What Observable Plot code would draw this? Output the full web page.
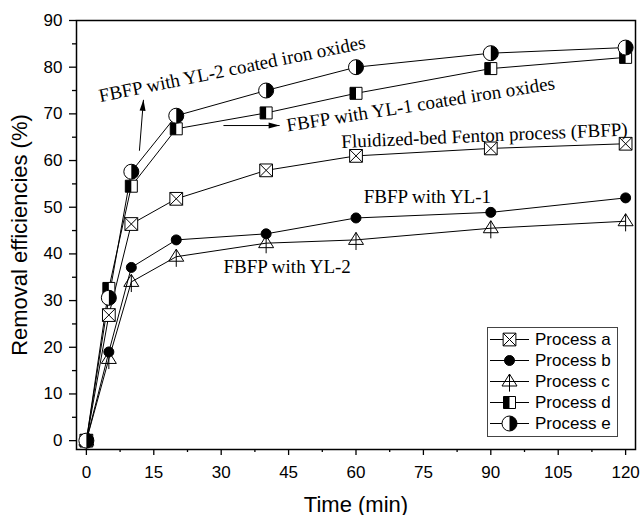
<!DOCTYPE html>
<html><head><meta charset="utf-8">
<script src="https://cdn.jsdelivr.net/npm/d3@7"></script>
<script src="https://cdn.jsdelivr.net/npm/@observablehq/plot@0.6"></script>
<style>
body{margin:0;background:#fff;}
#chart{position:relative;width:643px;height:515px;}
</style></head><body><div id="chart"></div>
<script>
// ---- data ----
const times = [0, 5, 10, 20, 40, 60, 90, 120];
const processA = [0, 26.9, 46.4, 51.8, 57.9, 61.0, 62.6, 63.6];
const processB = [0, 19.0, 37.1, 43.0, 44.3, 47.7, 48.9, 52.0];
const processC = [0, 17.5, 34.0, 39.4, 42.3, 43.0, 45.5, 47.0];
const processD = [0, 32.6, 54.5, 66.8, 70.2, 74.4, 79.7, 82.1];
const processE = [0, 30.6, 57.6, 69.6, 75.0, 80.0, 83.0, 84.2];
const seriesNames = ["Process a", "Process b", "Process c", "Process d", "Process e"];
const xTicks = [0, 15, 30, 45, 60, 75, 90, 105, 120];
const xMinor = [7.5, 22.5, 37.5, 52.5, 67.5, 82.5, 97.5, 112.5];
const yTicks = [0, 10, 20, 30, 40, 50, 60, 70, 80, 90];
const yMinor = [5, 15, 25, 35, 45, 55, 65, 75, 85];
const xLabel = "Time (min)";
const yLabel = "Removal efficiencies (%)";
const annoText = ["FBFP with YL-2 coated iron oxides", "FBFP with YL-1 coated iron oxides",
  "Fluidized-bed Fenton process (FBFP)", "FBFP with YL-1", "FBFP with YL-2"];
const annoX = [3.1, 44.75, 56.8, 61.7, 30.5];
const annoY = [72.5, 66.2, 62.7, 51.0, 35.9];
const annoAngle = [-11.5, -9, -2.5, 0, 0];
const arrowX1 = [11.8, 30.5], arrowY1 = [62.1, 67.5];
const arrowX2 = [12.7, 43.0], arrowY2 = [73.0, 67.5];

// ---- symbols ----
const rOf = size => Math.sqrt(size / Math.PI);
const crossSquare = {draw(c, size){ const s = rOf(size)*0.85;
  c.moveTo(-s,-s); c.lineTo(s,-s); c.lineTo(s,s); c.lineTo(-s,s); c.closePath();
  c.moveTo(-s,-s); c.lineTo(s,s); c.moveTo(s,-s); c.lineTo(-s,s);}};
const squareSym = {draw(c, size){ const s = rOf(size)*0.8;
  c.moveTo(-s,-s); c.lineTo(s,-s); c.lineTo(s,s); c.lineTo(-s,s); c.closePath();}};
const leftHalfSquare = {draw(c, size){ const s = rOf(size)*0.8;
  c.moveTo(-s,-s); c.lineTo(0,-s); c.lineTo(0,s); c.lineTo(-s,s); c.closePath();}};
const rightHalfCircle = {draw(c, size){ const r = rOf(size);
  c.moveTo(0,-r); c.arc(0,0,r,-Math.PI/2,Math.PI/2); c.closePath();}};
const triPlus = {draw(c, size){ const r = rOf(size);
  c.moveTo(0,-r); c.lineTo(r,0.6*r); c.lineTo(-r,0.6*r); c.closePath();
  c.moveTo(0,-r); c.lineTo(0,1.35*r);}};
const arrowSym = deg => ({draw(c){ const a = deg*Math.PI/180;
  const p = (x,y)=>[x*Math.cos(a)-y*Math.sin(a), x*Math.sin(a)+y*Math.cos(a)];
  const pts = [p(0,0), p(3,11), p(-3,11)];
  c.moveTo(...pts[0]); c.lineTo(...pts[1]); c.lineTo(...pts[2]); c.closePath();}});

const allSeries = [processA, processB, processC, processD, processE];
const rows = [];
allSeries.forEach((vals, i) => times.forEach((t, j) => rows.push({series: seriesNames[i], t, v: vals[j]})));
const bySeries = name => rows.filter(d => d.series === name);
const annos = annoText.map((text, i) => ({text, x: annoX[i], y: annoY[i], angle: annoAngle[i]}));
const arrows = arrowX1.map((x1, i) => ({x1, y1: arrowY1[i], x2: arrowX2[i], y2: arrowY2[i]}));

const markerSpecs = [
  [{symbol: crossSquare, r: 7.5, fill: "white", stroke: "black"}],
  [{symbol: "circle", r: 5, fill: "black", stroke: "black"}],
  [{symbol: triPlus, r: 7.5, fill: "none", stroke: "black"}],
  [{symbol: squareSym, r: 7.5, fill: "white", stroke: "black"}, {symbol: leftHalfSquare, r: 7.5, fill: "black", stroke: "none"}],
  [{symbol: "circle", r: 7.5, fill: "white", stroke: "black"}, {symbol: rightHalfCircle, r: 7.5, fill: "black", stroke: "none"}]
];

const dotMarks = [];
seriesNames.forEach((name, i) => markerSpecs[i].forEach(spec =>
  dotMarks.push(Plot.dot(bySeries(name), {x: "t", y: "v", strokeWidth: 1, ...spec}))));

const serif = "'Liberation Serif', 'Times New Roman', serif";
const chart = Plot.plot({
  width: 643, height: 515,
  marginLeft: 76, marginRight: 8, marginTop: 20, marginBottom: 66,
  x: {domain: [-2.2, 122.2]},
  y: {domain: [-1.9, 90]},
  style: {fontFamily: "'Liberation Sans', Arial, sans-serif", color: "black", background: "white"},
  marks: [
    Plot.axisX(xTicks, {tickSize: 6, tickPadding: 10, fontSize: 17, label: null, strokeWidth: 1.3}),
    Plot.axisX(xMinor, {tickSize: 3, tickFormat: () => "", label: null, strokeWidth: 1.3}),
    Plot.axisY(yTicks, {tickSize: 7, tickPadding: 7, fontSize: 17, label: null, strokeWidth: 1.3}),
    Plot.axisY(yMinor, {tickSize: 4, tickFormat: () => "", label: null, strokeWidth: 1.3}),
    Plot.text([xLabel], {text: d => d, frameAnchor: "bottom", dy: 62, lineAnchor: "bottom", textAnchor: "middle", fontSize: 22}),
    Plot.text([yLabel], {text: d => d, frameAnchor: "left", dx: -57, rotate: -90, textAnchor: "middle", lineAnchor: "middle", fontSize: 22}),
    Plot.line(rows, {x: "t", y: "v", z: "series", stroke: "black", strokeWidth: 1}),
    ...dotMarks,
    Plot.text(annos, {x: "x", y: "y", text: "text", rotate: "angle", textAnchor: "start", lineAnchor: "bottom",
      fontFamily: serif, fontSize: 19, fill: "black"}),
    Plot.link(arrows, {x1: "x1", y1: "y1", x2: "x2", y2: "y2", stroke: "black", strokeWidth: 1}),
    Plot.dot(arrows.slice(0,1), {x: "x2", y: "y2", symbol: arrowSym(4.6), fill: "black", stroke: "none"}),
    Plot.dot(arrows.slice(1,2), {x: "x2", y: "y2", symbol: arrowSym(90), fill: "black", stroke: "none"}),
    Plot.frame({stroke: "black", strokeWidth: 1.5})
  ]
});
document.getElementById("chart").appendChild(chart);

// ---- legend ----
const svg = d3.select(chart);
const lg = svg.append("g").attr("text-anchor", "start");
lg.append("rect").attr("x", 487.5).attr("y", 327.5).attr("width", 130).attr("height", 109)
  .attr("fill", "white").attr("stroke", "#444").attr("stroke-width", 1);
seriesNames.forEach((name, i) => {
  const cy = 339.5 + i * 21;
  lg.append("line").attr("x1", 490).attr("x2", 529).attr("y1", cy).attr("y2", cy)
    .attr("stroke", "black").attr("stroke-width", 1);
  markerSpecs[i].forEach(spec => {
    const type = typeof spec.symbol === "string" ? d3.symbolCircle : spec.symbol;
    lg.append("path").attr("d", d3.symbol(type, Math.PI * spec.r * spec.r)())
      .attr("transform", `translate(509.5,${cy})`)
      .attr("fill", spec.fill).attr("stroke", spec.stroke).attr("stroke-width", 1);
  });
  lg.append("text").attr("x", 535).attr("y", cy).attr("dy", "0.35em").attr("text-anchor", "start")
    .attr("font-size", 17).attr("fill", "black").text(name);
});
</script></body></html>
